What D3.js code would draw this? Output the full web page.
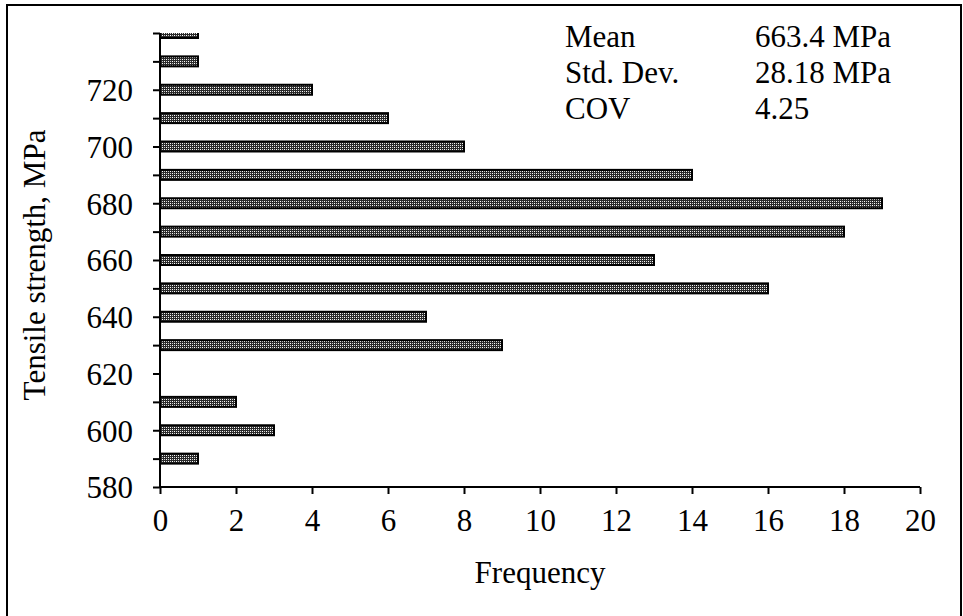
<!DOCTYPE html>
<html>
<head>
  <meta http-equiv="Content-Type" content="text/html; charset=UTF-8">
  <style>
    body { margin: 0; background: #fff; }
    svg text { font-family: "Liberation Serif", "Times New Roman", Times, "DejaVu Serif", serif; }
    .axis path, .axis line { stroke: #000; stroke-width: 2px; }
    .axis text { font-size: 31px; fill: #000; font-family: "Liberation Serif", "Times New Roman", Times, serif; }
    .bar { fill: url(#dots); stroke: #000; stroke-width: 2px; clip-path: url(#clip); }
    .stat { font-size: 31px; fill: #000; }
  </style>
</head>
<body>
  <svg width="963" height="616"></svg>
  <script src="https://cdn.jsdelivr.net/npm/d3@7"></script>
  <script>
    // tensile strength bins (MPa) and their frequencies
    var bins = [590, 600, 610, 620, 630, 640, 650, 660, 670, 680, 690, 700, 710, 720, 730, 740];
    var counts = [1, 3, 2, 0, 9, 7, 16, 13, 18, 19, 14, 8, 6, 4, 1, 1];
    var xTicks = [0, 2, 4, 6, 8, 10, 12, 14, 16, 18, 20];
    var yTicks = [580, 590, 600, 610, 620, 630, 640, 650, 660, 670, 680, 690, 700, 710, 720, 730, 740];
    var statNames = ["Mean", "Std. Dev.", "COV"];
    var statValues = ["663.4 MPa", "28.18 MPa", "4.25"];

    var svg = d3.select("svg"),
        margin = {top: 33, right: 43, bottom: 129, left: 160},
        width = 963 - margin.left - margin.right,
        height = 616 - margin.top - margin.bottom;

    var x = d3.scaleLinear().domain([0, 20]).range([0, width]),
        y = d3.scaleLinear().domain([580, 740]).range([height, 0]);

    var defs = svg.append("defs");
    defs.append("clipPath")
        .attr("id", "clip")
      .append("rect")
        .attr("x", -2)
        .attr("y", 0)
        .attr("width", width + 4)
        .attr("height", height);

    // dotted fill like the printed hatch
    var pat = defs.append("pattern")
        .attr("id", "dots")
        .attr("patternUnits", "userSpaceOnUse")
        .attr("width", 4)
        .attr("height", 4);
    pat.append("rect").attr("width", 4).attr("height", 4).attr("fill", "#2a2a2a");
    pat.append("rect").attr("x", 0).attr("y", 0).attr("width", 1).attr("height", 1).attr("fill", "#fff");
    pat.append("rect").attr("x", 2).attr("y", 2).attr("width", 1).attr("height", 1).attr("fill", "#fff");
    pat.append("rect").attr("x", 2).attr("y", 0).attr("width", 1).attr("height", 1).attr("fill", "#ccc");
    pat.append("rect").attr("x", 0).attr("y", 2).attr("width", 1).attr("height", 1).attr("fill", "#ccc");

    // outer frame
    svg.append("rect")
        .attr("x", 7)
        .attr("y", 5)
        .attr("width", 954)
        .attr("height", 612)
        .attr("fill", "none")
        .attr("stroke", "#000")
        .attr("stroke-width", 2);

    var g = svg.append("g")
        .attr("transform", "translate(" + margin.left + "," + margin.top + ")");

    var barH = 10;
    g.selectAll(".bar")
      .data(bins.map(function(b, i) { return {bin: b, n: counts[i]}; }).filter(function(d) { return d.n > 0; }))
      .enter().append("rect")
        .attr("class", "bar")
        .attr("x", x(0))
        .attr("y", function(d) { return y(d.bin) - barH / 2; })
        .attr("width", function(d) { return x(d.n) - x(0); })
        .attr("height", barH);

    g.append("g")
        .attr("class", "axis axis--x")
        .attr("transform", "translate(0," + height + ")")
        .call(d3.axisBottom(x).tickValues(xTicks).tickSize(7).tickPadding(15).tickSizeOuter(0))
        .selectAll("text").attr("dy", "0.71em");

    g.append("g")
        .attr("class", "axis axis--y")
        .call(d3.axisLeft(y).tickValues(yTicks).tickSize(7).tickPadding(20).tickSizeOuter(0)
          .tickFormat(function(d) { return (d % 20 === 0 && d < 740) ? d : ""; }))
        .selectAll("text").attr("dy", "0.35em");

    g.select(".axis--x path").attr("d", "M0,0H" + width);
    g.select(".axis--y path").attr("d", "M0," + height + "V0");

    svg.append("text")
        .attr("x", margin.left + width / 2)
        .attr("y", 583)
        .attr("text-anchor", "middle")
        .attr("class", "stat")
        .text("Frequency");

    svg.append("text")
        .attr("transform", "translate(45," + (margin.top + height / 2 + 5) + ") rotate(-90)")
        .attr("text-anchor", "middle")
        .attr("class", "stat")
        .text("Tensile strength, MPa");

    var stats = svg.append("g");
    stats.selectAll(".sname")
      .data(statNames)
      .enter().append("text")
        .attr("class", "stat")
        .attr("x", 565)
        .attr("y", function(d, i) { return 47 + i * 36; })
        .text(function(d) { return d; });
    stats.selectAll(".sval")
      .data(statValues)
      .enter().append("text")
        .attr("class", "stat")
        .attr("x", 755)
        .attr("y", function(d, i) { return 47 + i * 36; })
        .text(function(d) { return d; });
  </script>
</body>
</html>
